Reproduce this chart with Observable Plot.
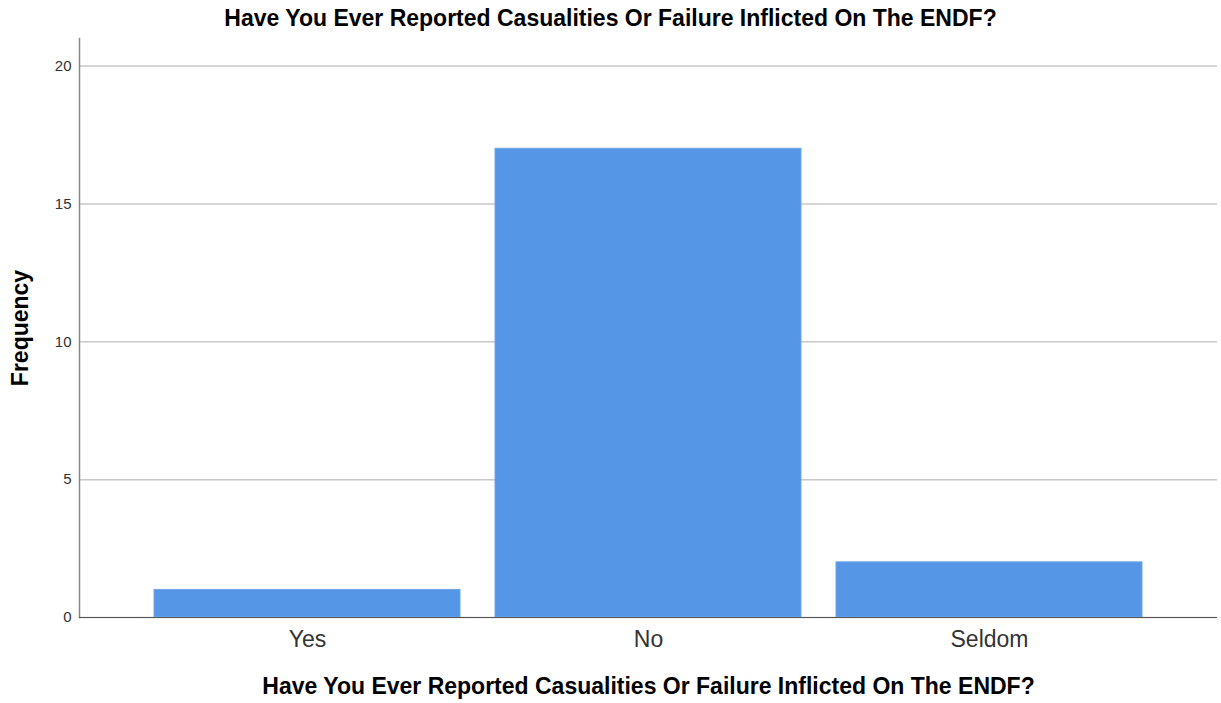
<!DOCTYPE html>
<html>
<head>
<meta charset="utf-8">
<script src="https://cdn.jsdelivr.net/npm/d3@7"></script>
<script src="https://cdn.jsdelivr.net/npm/@observablehq/plot@0.6"></script>
<style>
  html, body { margin: 0; padding: 0; background: #fff; }
  body { width: 1221px; height: 703px; overflow: hidden; font-family: "Liberation Sans", Arial, sans-serif; }
  #title { height: 36px; line-height: 36px; text-align: center; font-weight: bold; font-size: 23px; color: #000; padding-left: 0; }
  #chart svg { display: block; }
  g[aria-label="y-axis label"] text, g[aria-label="x-axis label"] text { font-weight: bold; font-size: 23px; fill: #000; }
  g[aria-label="y-axis tick label"] text { font-size: 15px; fill: #333; }
  g[aria-label="x-axis tick label"] text { font-size: 23px; fill: #333; }
</style>
</head>
<body>
<div id="title">Have You Ever Reported Casualities Or Failure Inflicted On The ENDF?</div>
<div id="chart"></div>
<script>
const categories = ["Yes", "No", "Seldom"];
const frequencies = [1, 17, 2];
const yTicks = [0, 5, 10, 15, 20];
const xTitle = "Have You Ever Reported Casualities Or Failure Inflicted On The ENDF?";
const yTitle = "Frequency";

const data = categories.map((c, i) => ({category: c, value: frequencies[i]}));

const chart = Plot.plot({
  width: 1221,
  height: 667,
  marginTop: 2,
  marginBottom: 86,
  marginLeft: 79,
  marginRight: 4,
  style: {fontFamily: "'Liberation Sans', Arial, sans-serif", background: "#fff"},
  x: {domain: categories, paddingInner: 0.102, paddingOuter: 0.216},
  y: {domain: [0, 21]},
  marks: [
    Plot.gridY(yTicks, {stroke: "#c8c8c8", strokeOpacity: 1, strokeWidth: 1.5}),
    Plot.barY(data, {x: "category", y: "value", fill: "#5596e6", stroke: "#6ea6ea", strokeWidth: 1}),
    Plot.frame({anchor: "left", stroke: "#888", strokeWidth: 1.5}),
    Plot.ruleY([0], {stroke: "#555", strokeWidth: 1.2}),
    Plot.axisY({ticks: yTicks, tickSize: 0, tickPadding: 8, label: yTitle, labelAnchor: "center", labelArrow: "none", labelOffset: 68}),
    Plot.axisX({tickSize: 0, tickPadding: 13, label: xTitle, labelAnchor: "center", labelArrow: "none", labelOffset: 76})
  ]
});
document.getElementById("chart").appendChild(chart);
</script>
</body>
</html>
